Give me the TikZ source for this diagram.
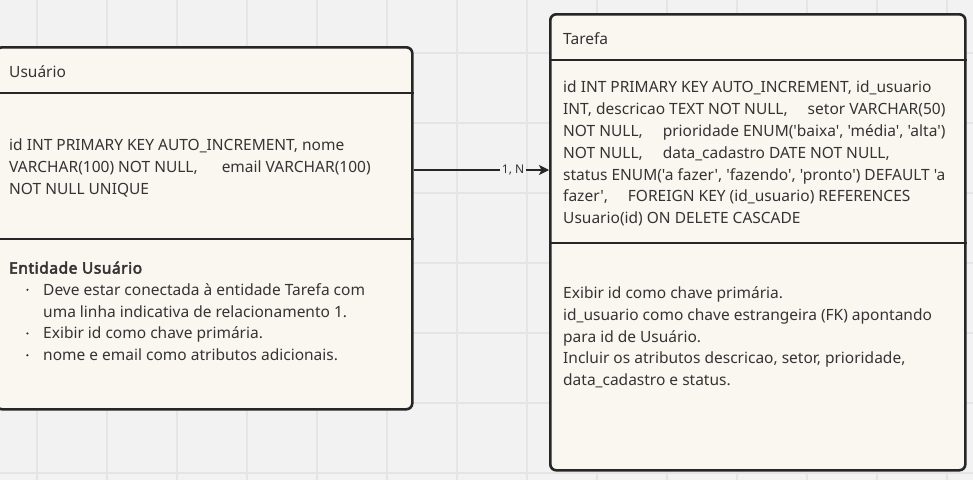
\documentclass[tikz,border=0pt]{standalone}
\usepackage{fontspec}
\setmainfont{Noto Sans}[Ligatures=TeXOff, AutoFakeBold=3.2]
\usetikzlibrary{arrows.meta}
\definecolor{canvas}{RGB}{242,242,242}
\definecolor{gridc}{RGB}{229,229,229}
\definecolor{cardfill}{RGB}{250,247,241}
\definecolor{cardline}{RGB}{38,38,38}
\definecolor{txt}{RGB}{52,52,52}
\tikzset{
  card/.style={draw=cardline, fill=cardfill, line width=2.6pt, rounded corners=6pt},
  divider/.style={draw=cardline, line width=2.2pt},
  body/.style={inner sep=0pt, anchor=north west, align=left, text=txt,
    font=\fontsize{15.5}{21.8}\selectfont},
  rel/.style={draw=cardline, line width=1.3pt},
  rellabel/.style={fill=canvas, inner sep=1.5pt, text=txt, font=\fontsize{12}{14}\selectfont}
}
\newcommand{\bul}{\hspace*{17pt}\makebox[17pt][l]{\raisebox{4.3pt}{\tikz\fill[txt] (0,0) circle (1.2pt);}}}
\newcommand{\ind}{\hspace*{34pt}}
\begin{document}
\begin{tikzpicture}[x=1pt,y=-1pt]
\useasboundingbox (0,0) rectangle (973,480);
\fill[canvas] (0,0) rectangle (973,480);
\foreach \gx in {37,107,...,967} \draw[gridc, line width=1.5pt] (\gx,0) -- (\gx,480);
\foreach \gy in {53,123,...,480} \draw[gridc, line width=1.5pt] (0,\gy) -- (973,\gy);

% Usuario card
\node[card, minimum width=416pt, minimum height=362pt, anchor=north west, inner sep=0pt] (usu) at (-5,46) {};
\draw[divider] (usu.west |- 0,93) -- (usu.east |- 0,93);
\draw[divider] (usu.west |- 0,239) -- (usu.east |- 0,239);
\node[body] (usuTitle) at (9,77.5-15.26) {\strut Usuário};
\node[body] (usuAttr) at (9,150.7-15.26) {\strut id INT PRIMARY KEY AUTO\_INCREMENT, nome\\
VARCHAR(100) NOT NULL,\hspace{24pt}email VARCHAR(100)\\
NOT NULL UNIQUE};
\node[body] (usuNote) at (9,273.3-15.26) {\strut{\bfseries\addfontfeature{LetterSpace=3.6}Entidade Usuário}\\
\bul Deve estar conectada à entidade Tarefa com\\
\ind uma linha indicativa de relacionamento 1.\\
\bul Exibir id como chave primária.\\
\bul nome e email como atributos adicionais.};

% Tarefa card
\node[card, minimum width=415pt, minimum height=456pt, anchor=north west, inner sep=0pt] (tar) at (549,13) {};
\draw[divider] (tar.west |- 0,60) -- (tar.east |- 0,60);
\draw[divider] (tar.west |- 0,243) -- (tar.east |- 0,243);
\node[body] (tarTitle) at (563,44-15.26) {\strut Tarefa};
\node[body] (tarAttr) at (563,92.7-15.26) {\strut id INT PRIMARY KEY AUTO\_INCREMENT, id\_usuario\\
INT, descricao TEXT NOT NULL,\hspace{20pt}setor VARCHAR(50)\\
NOT NULL,\hspace{20pt}prioridade ENUM('baixa', 'média', 'alta')\\
NOT NULL,\hspace{20pt}data\_cadastro DATE NOT NULL,\\
status ENUM('a fazer', 'fazendo', 'pronto') DEFAULT 'a\\
fazer',\hspace{20pt}FOREIGN KEY (id\_usuario) REFERENCES\\
Usuario(id) ON DELETE CASCADE};
\node[body] (tarNote) at (563,298.3-15.26) {\strut Exibir id como chave primária.\\
id\_usuario como chave estrangeira (FK) apontando\\
para id de Usuário.\\
Incluir os atributos descricao, setor, prioridade,\\
data\_cadastro e status.};

% relationship
\coordinate (uOut) at (usu.east |- 0,170);
\coordinate (tIn) at (tar.west |- 0,170);
\draw[rel, -{Stealth[length=10pt,width=10pt,inset=2.5pt]}] (uOut) -- node[rellabel, pos=0.735] (card1) {1, N} (tIn);
\end{tikzpicture}
\end{document}
